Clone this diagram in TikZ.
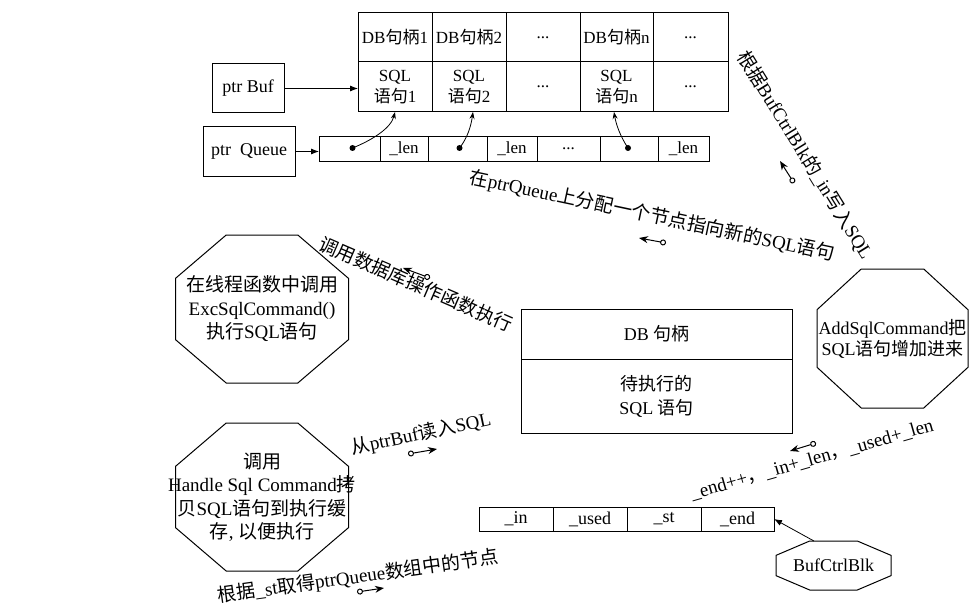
\documentclass[tikz,border=0pt]{standalone}
\usepackage{fontspec}
\setmainfont{Liberation Serif}
\newfontfamily\zhfont{Noto Sans CJK SC}
\newcommand\zh[1]{{\zhfont #1}}
\usetikzlibrary{arrows.meta,calc}
\newcommand\octa[1]{\draw[octline] ($(#1.north west)!0.293!(#1.north east)$) -- ($(#1.north west)!0.707!(#1.north east)$) -- ($(#1.north east)!0.293!(#1.south east)$) -- ($(#1.north east)!0.707!(#1.south east)$) -- ($(#1.south east)!0.293!(#1.south west)$) -- ($(#1.south east)!0.707!(#1.south west)$) -- ($(#1.south west)!0.293!(#1.north west)$) -- ($(#1.south west)!0.707!(#1.north west)$) -- cycle;}
\begin{document}
\begin{tikzpicture}[x=1pt,y=-1pt,
 every node/.style={inner sep=0pt,outer sep=0pt},
 cellbox/.style={draw,line width=1pt,anchor=north west,align=center,font=\fontsize{17}{21}\selectfont},
 bigcell/.style={cellbox,font=\fontsize{18}{24}\selectfont},
 octbox/.style={align=center,font=\fontsize{19}{23.5}\selectfont},
 octline/.style={draw,line width=1pt},
 lbl/.style={font=\fontsize{19}{21}\selectfont},
 conn/.style={line width=0.8pt,-{Latex[length=8pt,width=6pt]}},
 curv/.style={line width=0.8pt,-{Stealth[length=7pt,width=5pt]}},
 mini/.style={line width=1pt,arrows={Circle[open,length=6pt,width=6pt]-Stealth[length=9pt,width=7pt]}},
 dot/.style={circle,fill,minimum size=6pt}
]
\useasboundingbox (0,0) rectangle (969,607);

% top table
\node[cellbox,minimum width=74pt,minimum height=49pt] (h1) at (358,13) {DB\zh{句柄}1};
\node[cellbox,minimum width=74pt,minimum height=49pt] (h2) at (432,13) {DB\zh{句柄}2};
\node[cellbox,minimum width=74pt,minimum height=49pt] (h3) at (506,13) {...};
\node[cellbox,minimum width=73pt,minimum height=49pt] (h4) at (580,13) {DB\zh{句柄}n};
\node[cellbox,minimum width=75pt,minimum height=49pt] (h5) at (653,13) {...};
\node[cellbox,minimum width=74pt,minimum height=50pt] (s1) at (358,62) {SQL\\\zh{语句}1};
\node[cellbox,minimum width=74pt,minimum height=50pt] (s2) at (432,62) {SQL\\\zh{语句}2};
\node[cellbox,minimum width=74pt,minimum height=50pt] (s3) at (506,62) {...};
\node[cellbox,minimum width=73pt,minimum height=50pt] (s4) at (580,62) {SQL\\\zh{语句}n};
\node[cellbox,minimum width=75pt,minimum height=50pt] (s5) at (653,62) {...};

% pointers
\node[bigcell,minimum width=72pt,minimum height=49pt] (pb) at (212,64) {ptr Buf};
\node[bigcell,minimum width=92pt,minimum height=49pt] (pq) at (203,127) {ptr~ Queue};

% queue row
\node[cellbox,minimum width=61pt,minimum height=24pt] (q1) at (319,137) {};
\node[cellbox,minimum width=48pt,minimum height=24pt] (q2) at (380,137) {\_len};
\node[cellbox,minimum width=59pt,minimum height=24pt] (q3) at (428,137) {};
\node[cellbox,minimum width=50pt,minimum height=24pt] (q4) at (487,137) {\_len};
\node[cellbox,minimum width=63pt,minimum height=24pt] (q5) at (537,137) {...};
\node[cellbox,minimum width=58pt,minimum height=24pt] (q6) at (600,137) {};
\node[cellbox,minimum width=51pt,minimum height=24pt] (q7) at (658,137) {\_len};

\draw[conn] (pb.east) -- (pb.east -| s1.west);
\draw[conn] (pq.east) -- (pq.east -| q1.west);

\node[dot] (d1) at ($(q1.center)+(3,-1)$) {};
\node[dot] (d2) at ($(q3.center)+(2,-1)$) {};
\node[dot] (d3) at ($(q6.center)+(-1,-1)$) {};
\coordinate (t1) at ($(s1.south west)+(37,0)$);
\coordinate (t2) at ($(s2.south west)+(41,0)$);
\coordinate (t3) at ($(s4.south west)+(34,0)$);
\draw[curv] (d1.center) .. controls +(20,-8) and +(-4,16) .. (t1);
\draw[curv] (d2.center) .. controls +(8,-10) and +(-2,14) .. (t2);
\draw[curv] (d3.center) .. controls +(-8,-12) and +(2,12) .. (t3);

% middle box
\node[bigcell,minimum width=271pt,minimum height=50pt] (m1) at (521,309) {DB \zh{句柄}};
\node[bigcell,minimum width=271pt,minimum height=74pt] (m2) at (521,359) {\zh{待执行的}\\SQL \zh{语句}};

% bottom row
\node[bigcell,minimum width=74pt,minimum height=24pt] (b1) at (479,507) {\_in};
\node[bigcell,minimum width=74pt,minimum height=24pt] (b2) at (553,507) {\_used};
\node[bigcell,minimum width=74pt,minimum height=24pt] (b3) at (627,507) {\_st};
\node[bigcell,minimum width=73pt,minimum height=24pt] (b4) at (701,507) {\_end};

% octagons
\node[octbox,minimum width=173pt,minimum height=148pt] (o1) at (262,309) {\zh{在线程函数中调用}\\ExcSqlCommand()\\\zh{执行}SQL\zh{语句}};
\octa{o1}
\node[octbox,minimum width=173pt,minimum height=148pt] (o2) at (262,497) {\zh{调用}\\\makebox[0pt]{Handle Sql Command\zh{拷}}\\\zh{贝}SQL\zh{语句到执行缓}\\\zh{存}, \zh{以便执行}};
\octa{o2}
\node[octbox,minimum width=151pt,minimum height=139pt,font=\fontsize{18}{21}\selectfont] (o3) at (892.5,338.5) {AddSqlCommand\zh{把}\\SQL\zh{语句增加进来}};
\octa{o3}
\node[octbox,minimum width=115pt,minimum height=49pt,font=\fontsize{18}{21}\selectfont] (o4) at (833.5,565.5) {BufCtrlBlk};
\octa{o4}
\draw[conn] ($(o4.north west)!0.33!(o4.north east)$) -- (b4.east);

% rotated labels
\node[lbl,rotate=-58.3] (l1) at (805,155) {\zh{根据}BufCtrlBlk\zh{的}\_in\zh{写入}SQL};
\node[lbl,rotate=-12] (l2) at (652,216) {\zh{在}ptrQueue\zh{上分配一个节点指向新的}SQL\zh{语句}};
\node[lbl,rotate=-23.4] (l3) at (416,284) {\zh{调用数据库操作函数执行}};
\node[lbl,rotate=12] (l4) at (421,434) {\zh{从}ptrBuf\zh{读入}SQL};
\node[lbl,rotate=8] (l5) at (358,577) {\zh{根据}\_st\zh{取得}ptrQueue\zh{数组中的节点}};
\node[lbl,rotate=16] (l6) at (812,460) {\_end++\zh{，}\_in+\_len\zh{，}\_used+\_len};

% small direction arrows
\coordinate (a1s) at (794,183); \coordinate (a1e) at (780,161);
\coordinate (a2s) at (666,243); \coordinate (a2e) at (639,238);
\coordinate (a3s) at (430,278); \coordinate (a3e) at (403,268);
\coordinate (a4s) at (408,454); \coordinate (a4e) at (437,449);
\coordinate (a5s) at (357,592); \coordinate (a5e) at (384,588);
\coordinate (a6s) at (816,443); \coordinate (a6e) at (790,451);
\draw[mini] (a1s) -- (a1e);
\draw[mini] (a2s) -- (a2e);
\draw[mini] (a3s) -- (a3e);
\draw[mini] (a4s) -- (a4e);
\draw[mini] (a5s) -- (a5e);
\draw[mini] (a6s) -- (a6e);
\end{tikzpicture}
\end{document}
